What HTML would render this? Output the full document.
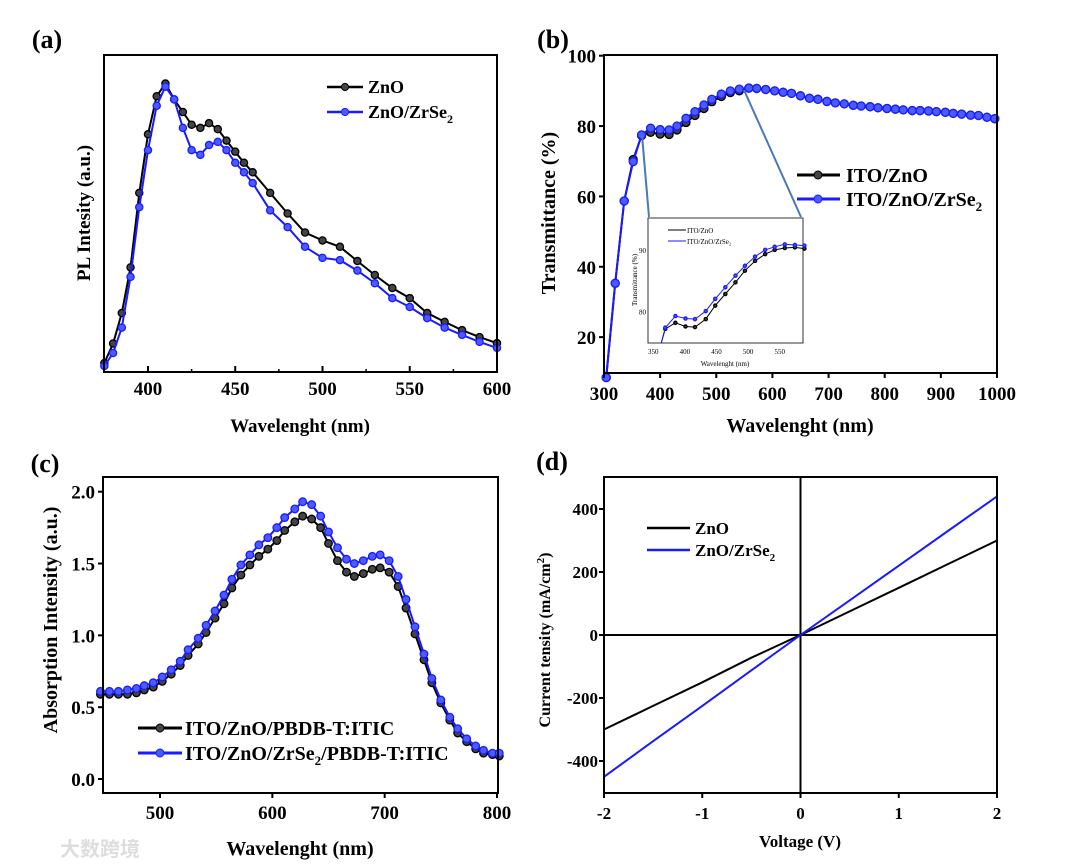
<!DOCTYPE html>
<html><head><meta charset="utf-8"><style>
body{margin:0;background:#fff;}
svg{display:block;font-family:"Liberation Serif",serif;font-weight:bold;}
</style></head><body>
<svg id="fig" width="1080" height="868" viewBox="0 0 1080 868"></svg>
<script>
// Panel (a) data
const aX=[375,380,385,390,395,400,405,410,415,420,425,430,435,440,445,450,455,460,470,480,490,500,510,520,530,540,550,560,570,580,590,600];
const aZnO=[2.8,9,18.6,33,56.5,75,87,91,86,82,78,77,78.5,76.6,73,69.5,66,63,56.5,50,44,41.5,39.5,35,30.6,26.5,23.3,18.6,15.8,13.2,11,9.1];
const aZr=[1.9,6,14,30,52,70,84,90,86,77,70,68.5,71.6,72.6,70,66,63,59.6,51,45.7,39.5,36,35.3,32,28,23.3,20.5,17,14,11.7,9.5,7.6];
const aTicks=[400,450,500,550,600];
// Panel (b) data
const bX=[304,320,336,352,367,383,400,416,430,446,462,478,492,509,525,541,558,572,588,604,619,634,650,666,681,697,712,728,744,758,774,788,804,819,833,849,863,878,892,908,922,937,953,967,982,996];
const bZnO=[8.5,35.3,58.7,70.5,77.3,78.2,77.7,77.6,78.9,81,83,85,86.9,88.4,89.5,90,90.8,90.7,90.4,90,89.6,89.3,88.6,87.9,87.6,87,86.6,86.3,85.9,85.7,85.5,85.2,85,84.8,84.6,84.4,84.4,84.3,84.1,83.9,83.6,83.4,83.1,83,82.5,82.1];
const bZr=[8.5,35.3,58.7,69.9,77.5,79.4,79,78.9,80,82.2,84.1,86,87.6,89.1,90,90.5,90.8,90.7,90.4,90,89.6,89.3,88.6,87.9,87.6,87,86.6,86.3,85.9,85.7,85.5,85.2,85,84.8,84.6,84.4,84.4,84.3,84.1,83.9,83.6,83.4,83.1,83,82.5,82.1];
const bXTicks=[300,400,500,600,700,800,900,1000];
const bYTicks=[20,40,60,80,100];
const insX=[360,369,385,401,416,433,448,464,480,495,511,527,542,558,574,589];
const insZnO=[74,77.3,78.3,77.7,77.6,78.9,81.1,83,84.9,86.8,88.4,89.5,90.2,90.5,90.6,90.4];
const insZr=[74,77.5,79.4,79,78.9,80.2,82.2,84.1,86,87.6,89.1,90.2,90.7,91.1,91,90.9];
// Panel (c) data
const cX=[447,455,463,471,479,486,494,502,510,518,525,534,541,549,557,564,572,580,588,596,604,611,620,627,635,643,650,658,666,673,681,689,696,704,712,719,727,735,742,750,758,765,773,781,788,796,802];
const cZnO=[0.59,0.59,0.59,0.59,0.60,0.62,0.64,0.68,0.73,0.79,0.86,0.94,1.02,1.12,1.22,1.33,1.42,1.49,1.55,1.60,1.66,1.73,1.79,1.83,1.81,1.75,1.64,1.52,1.44,1.41,1.43,1.46,1.47,1.44,1.34,1.19,1.01,0.83,0.67,0.53,0.41,0.32,0.26,0.21,0.18,0.17,0.16];
const cZr=[0.61,0.61,0.61,0.62,0.63,0.65,0.67,0.71,0.76,0.82,0.90,0.98,1.07,1.17,1.28,1.39,1.49,1.56,1.63,1.68,1.75,1.82,1.88,1.93,1.91,1.83,1.72,1.61,1.53,1.50,1.52,1.55,1.56,1.52,1.41,1.25,1.06,0.87,0.70,0.55,0.43,0.35,0.28,0.23,0.20,0.18,0.18];
const cXTicks=[500,600,700,800];
const cYTicks=[0,0.5,1,1.5,2];
const cYLabels=["0.0","0.5","1.0","1.5","2.0"];
// Panel (d) data
const dV=[-2,-1.5,-1,-0.5,0,0.5,1,1.5,2];
const dZnO=[-300,-225,-150,-72,0,75,150,225,300];
const dZr=[-450,-337,-225,-112,0,110,220,330,440];
const dXTicks=[-2,-1,0,1,2];
const dYTicks=[-400,-200,0,200,400];

const NS="http://www.w3.org/2000/svg";
const svg=document.getElementById('fig');
function el(tag,attrs,parent,text){const e=document.createElementNS(NS,tag);for(const k in attrs)e.setAttribute(k,attrs[k]);if(text!==undefined)e.textContent=text;(parent||svg).appendChild(e);return e;}
function scale(d0,d1,r0,r1){return v=>r0+(v-d0)*(r1-r0)/(d1-d0);}
function pathD(xs,ys,sx,sy){return xs.map((x,i)=>(i?'L':'M')+sx(x).toFixed(1)+' '+sy(ys[i]).toFixed(1)).join(' ');}
function series(g,xs,ys,sx,sy,color,name,markers,r,sw){
  const p=el('path',{d:pathD(xs,ys,sx,sy),fill:'none',stroke:color,'stroke-width':sw||2},g);
  
  
  if(markers){xs.forEach((x,i)=>{const c=el('circle',{cx:sx(x),cy:sy(ys[i]),r:r||3.6,fill:color==='#000'?'#444':'#4a5cff',stroke:color,'stroke-width':1.3},g);
    
    });}
}
function box(g,L,T,R,B){el('rect',{x:L,y:T,width:R-L,height:B-T,fill:'none',stroke:'#000','stroke-width':2},g);}
function text(g,x,y,s,size,anchor,name,extra){const t=el('text',Object.assign({x:x,y:y,'font-size':size,'text-anchor':anchor||'middle'},extra||{}),g,s);
  
  return t;}

// ---------- Panel a
(function(){
  const g=el('g',{});
  const L=104,T=55,R=497,B=372;
  const sx=scale(374.8,600,L,R), sy=scale(0,100,B,B-317);
  text(g,47,48,'(a)',26,'middle','panel-label-a');
  series(g,aX,aZnO,sx,sy,'#000','zno-series',true);
  series(g,aX,aZr,sx,sy,'#1a1aff','zno-zrse2-series',true);
  box(g,L,T,R,B);
  aTicks.forEach(t=>{el('line',{x1:sx(t),x2:sx(t),y1:B,y2:B-6,stroke:'#000','stroke-width':2},g);text(g,sx(t),395,String(t),19,'middle','x-tick-label');});
  [425,475,525,575].forEach(t=>el('line',{x1:sx(t),x2:sx(t),y1:B,y2:B-3,stroke:'#000','stroke-width':1.5},g));
  text(g,300,432,'Wavelenght (nm)',19,'middle','x-axis-title');
  text(g,0,0,'PL Intesity (a.u.)',19,'middle','y-axis-title',{transform:'translate(90,213) rotate(-90)'});
  el('line',{x1:327,x2:363,y1:87,y2:87,stroke:'#000','stroke-width':2.5},g);
  el('circle',{cx:345,cy:87,r:3.6,fill:'#444',stroke:'#000'},g);
  text(g,368,93,'ZnO',18,'start','legend-zno');
  el('line',{x1:327,x2:363,y1:112,y2:112,stroke:'#1a1aff','stroke-width':2.5},g);
  el('circle',{cx:345,cy:112,r:3.6,fill:'#4a5cff',stroke:'#1a1aff'},g);
  const t=text(g,368,118,'ZnO/ZrSe',18,'start','legend-zno-zrse2');el('tspan',{'font-size':12,dy:5},t,'2');
})();

// ---------- Panel b
(function(){
  const g=el('g',{});
  const L=604,T=55,R=997,B=373;
  const sx=scale(300,1000,L,R), sy=scale(9.8,100,B,55.7);
  text(g,553,48,'(b)',26,'middle','panel-label-b');
  series(g,bX,bZnO,sx,sy,'#000','ito-zno-series',true,4);
  series(g,bX,bZr,sx,sy,'#1a1aff','ito-zno-zrse2-series',true,4);
  box(g,L,T,R,B);
  bXTicks.forEach(t=>{el('line',{x1:sx(t),x2:sx(t),y1:B,y2:B+5,stroke:'#000','stroke-width':2},g);text(g,sx(t),400,String(t),19,'middle','x-tick-label');});
  bYTicks.forEach(t=>{el('line',{x1:L,x2:L-5,y1:sy(t),y2:sy(t),stroke:'#000','stroke-width':2},g);text(g,L-8,sy(t)+7,String(t),19,'end','y-tick-label');});
  text(g,800,432,'Wavelenght (nm)',20,'middle','x-axis-title');
  text(g,0,0,'Transmittance (%)',20,'middle','y-axis-title',{transform:'translate(555,213) rotate(-90)'});
  el('line',{x1:642,y1:135,x2:649,y2:217,stroke:'#4a78b8','stroke-width':2},g);
  el('line',{x1:744,y1:90,x2:801,y2:217,stroke:'#4a78b8','stroke-width':2},g);
  const iL=648,iT=218,iR=803,iB=343;
  el('rect',{x:iL,y:iT,width:iR-iL,height:iB-iT,fill:'#fff',stroke:'#333','stroke-width':1},g);
  const ix=scale(341.7,586.8,iL,iR), iy=scale(75,95.4,iB,iT);
  const cp=el('clipPath',{id:'insclip'},svg);el('rect',{x:iL,y:iT,width:iR-iL+4,height:iB-iT},cp);
  const ig=el('g',{'clip-path':'url(#insclip)'},g);
  series(ig,insX,insZnO,ix,iy,'#000','inset-ito-zno',true,1.6,1);
  series(ig,insX,insZr,ix,iy,'#1a1aff','inset-ito-zno-zrse2',true,1.6,1);
  [350,400,450,500,550].forEach(t=>text(g,ix(t),354,String(t),7,'middle','inset-x-tick',{'font-weight':'normal'}));
  [80,90].forEach(t=>text(g,iL-2,iy(t)+2,String(t),7,'end','inset-y-tick',{'font-weight':'normal'}));
  text(g,725,366,'Wavelenght (nm)',7,'middle','inset-x-title',{'font-weight':'normal'});
  text(g,0,0,'Transmittance (%)',7,'middle','inset-y-title',{transform:'translate(637,280) rotate(-90)','font-weight':'normal'});
  el('line',{x1:668,x2:686,y1:230,y2:230,stroke:'#000'},g);
  text(g,687,233,'ITO/ZnO',7,'start','inset-legend-zno',{'font-weight':'normal'});
  el('line',{x1:668,x2:686,y1:241,y2:241,stroke:'#1a1aff'},g);
  text(g,687,244,'ITO/ZnO/ZrSe\u2082',7,'start','inset-legend-zr',{'font-weight':'normal'});
  el('line',{x1:797,x2:840,y1:175,y2:175,stroke:'#000','stroke-width':3},g);
  el('circle',{cx:818,cy:175,r:4,fill:'#444',stroke:'#000'},g);
  text(g,846,182,'ITO/ZnO',20,'start','legend-ito-zno');
  el('line',{x1:797,x2:840,y1:199,y2:199,stroke:'#1a1aff','stroke-width':3},g);
  el('circle',{cx:818,cy:199,r:4,fill:'#4a5cff',stroke:'#1a1aff'},g);
  const t=text(g,846,206,'ITO/ZnO/ZrSe',20,'start','legend-ito-zno-zrse2');el('tspan',{'font-size':13,dy:5},t,'2');
})();

// ---------- Panel c
(function(){
  const g=el('g',{});
  const L=103,T=477,R=498,B=793;
  const sx=scale(500,800,160,497), sy=scale(0,2,779,491.7);
  text(g,45,472,'(c)',26,'middle','panel-label-c');
  series(g,cX,cZnO,sx,sy,'#000','ito-zno-pbdb-series',true,3.8);
  series(g,cX,cZr,sx,sy,'#1a1aff','ito-zno-zrse2-pbdb-series',true,3.8);
  box(g,L,T,R,B);
  cXTicks.forEach(t=>{el('line',{x1:sx(t),x2:sx(t),y1:B,y2:B+5,stroke:'#000','stroke-width':2},g);text(g,sx(t),819,String(t),19,'middle','x-tick-label');});
  cYTicks.forEach((t,i)=>{el('line',{x1:L,x2:L-5,y1:sy(t),y2:sy(t),stroke:'#000','stroke-width':2},g);text(g,L-8,sy(t)+7,cYLabels[i],19,'end','y-tick-label');});
  text(g,300,855,'Wavelenght (nm)',20,'middle','x-axis-title');
  text(g,0,0,'Absorption Intensity (a.u.)',20,'middle','y-axis-title',{transform:'translate(57,620) rotate(-90)'});
  el('line',{x1:138,x2:182,y1:728,y2:728,stroke:'#000','stroke-width':3},g);
  el('circle',{cx:160,cy:728,r:4,fill:'#444',stroke:'#000'},g);
  text(g,185,735,'ITO/ZnO/PBDB-T:ITIC',20,'start','legend-ito-zno-pbdb');
  el('line',{x1:138,x2:182,y1:753,y2:753,stroke:'#1a1aff','stroke-width':3},g);
  el('circle',{cx:160,cy:753,r:4,fill:'#4a5cff',stroke:'#1a1aff'},g);
  const t=text(g,185,760,'ITO/ZnO/ZrSe',20,'start','legend-ito-zno-zrse2-pbdb');
  el('tspan',{'font-size':13,dy:5},t,'2');el('tspan',{dy:-5},t,'/PBDB-T:ITIC');
  text(g,100,856,'大数跨境',20,'middle','watermark',{fill:'#ddd','font-family':'"Noto Sans CJK SC",sans-serif'});
})();

// ---------- Panel d
(function(){
  const g=el('g',{});
  const L=604,T=477,R=997,B=793;
  const sx=scale(-2,2,L,R), sy=scale(0,400,635,509);
  text(g,552,470,'(d)',26,'middle','panel-label-d');
  el('line',{x1:L,x2:R,y1:sy(0),y2:sy(0),stroke:'#000','stroke-width':2},g);
  el('line',{x1:sx(0),x2:sx(0),y1:T,y2:B,stroke:'#000','stroke-width':2},g);
  series(g,dV,dZnO,sx,sy,'#000','zno-iv-curve',false,0,2);
  series(g,dV,dZr,sx,sy,'#1a1aff','zno-zrse2-iv-curve',false,0,2);
  box(g,L,T,R,B);
  dXTicks.forEach(t=>{el('line',{x1:sx(t),x2:sx(t),y1:B,y2:B+5,stroke:'#000','stroke-width':2},g);text(g,sx(t),819,String(t),17,'middle','x-tick-label');});
  dYTicks.forEach(t=>{el('line',{x1:L,x2:L-5,y1:sy(t),y2:sy(t),stroke:'#000','stroke-width':2},g);text(g,L-6,sy(t)+6,String(t),17,'end','y-tick-label');});
  text(g,800,847,'Voltage (V)',17,'middle','x-axis-title');
  const yt=text(g,0,0,'Current tensity (mA/cm',16,'middle','y-axis-title',{transform:'translate(550,640) rotate(-90)'});
  el('tspan',{'font-size':11,dy:-6},yt,'2');el('tspan',{dy:6},yt,')');
  el('line',{x1:647,x2:690,y1:528,y2:528,stroke:'#000','stroke-width':2.5},g);
  text(g,695,534,'ZnO',17,'start','legend-zno');
  el('line',{x1:647,x2:690,y1:550,y2:550,stroke:'#1a1aff','stroke-width':2.5},g);
  const t=text(g,695,556,'ZnO/ZrSe',17,'start','legend-zno-zrse2');el('tspan',{'font-size':11,dy:5},t,'2');
})();
</script>
</body></html>
